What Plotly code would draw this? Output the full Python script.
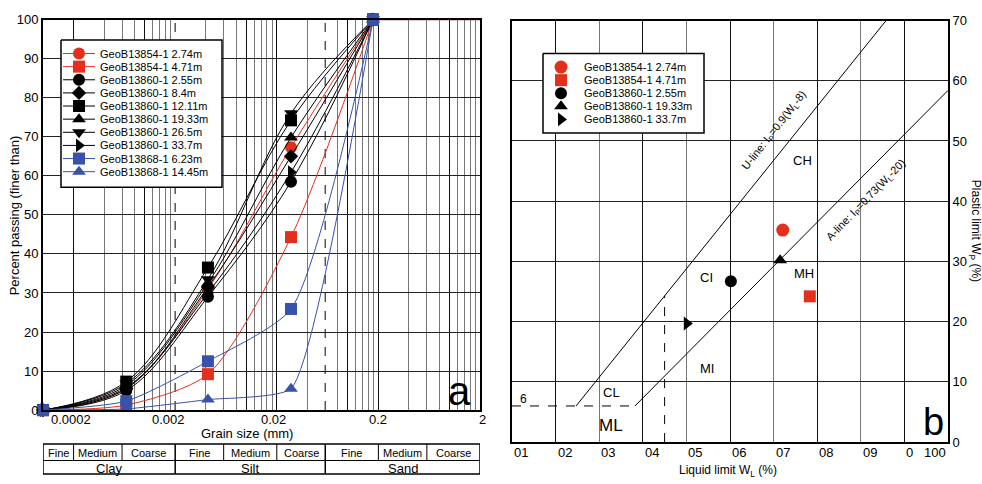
import math
import plotly.graph_objects as go

W, H = 982, 484
FONT = "Liberation Sans, Arial, sans-serif"
RED = "#E3301C"
BLUE = "#3752A8"
BLACK = "#000000"

# ---------------- panel a: grain size distribution ----------------
GRAIN_SIZE_MM = [0.0001, 0.00066, 0.0042, 0.0276, 0.177]
SIZE_AXIS_MIN = 0.0001
SIZE_AXIS_MAX = 2.0

P_13854_274 = [0, 5.5, 31.0, 67.3, 100]
P_13854_471 = [0, 1.3, 9.2, 44.3, 100]
P_13860_255 = [0, 5.0, 29.0, 58.5, 100]
P_13860_84 = [0, 5.5, 31.5, 65.0, 100]
P_13860_1211 = [0, 7.3, 36.5, 74.2, 100]
P_13860_1933 = [0, 6.3, 32.5, 69.8, 100]
P_13860_265 = [0, 6.8, 33.5, 76.0, 100]
P_13860_337 = [0, 5.8, 30.0, 60.9, 100]
P_13868_623 = [0, 2.3, 12.5, 25.9, 100]
P_13868_1445 = [0, 0.3, 2.7, 5.5, 100]

NAMES_A = ["GeoB13854-1 2.74m", "GeoB13854-1 4.71m", "GeoB13860-1 2.55m",
           "GeoB13860-1 8.4m", "GeoB13860-1 12.11m", "GeoB13860-1 19.33m",
           "GeoB13860-1 26.5m", "GeoB13860-1 33.7m", "GeoB13868-1 6.23m",
           "GeoB13868-1 14.45m"]
VALUES_A = [P_13854_274, P_13854_471, P_13860_255, P_13860_84, P_13860_1211,
            P_13860_1933, P_13860_265, P_13860_337, P_13868_623, P_13868_1445]

X_TICK_VALUES_A = [0.0002, 0.002, 0.02, 0.2, 2]
X_TICK_LABELS_A = ["0.0002", "0.002", "0.02", "0.2", "2"]
Y_TICKS_A = [0, 10, 20, 30, 40, 50, 60, 70, 80, 90, 100]

CLASS_NAMES = ["Clay", "Silt", "Sand"]
CLASS_BOUNDS = [0.0001, 0.002, 0.06, 2]
SUBCLASS_NAMES = ["Fine", "Medium", "Coarse"]
SUBCLASS_BOUNDS = [[0.0001, 0.0002, 0.0006, 0.002],
                   [0.002, 0.006, 0.02, 0.06],
                   [0.06, 0.2, 0.6, 2]]

# ---------------- panel b: plasticity chart ----------------
NAMES_B = ["GeoB13854-1 2.74m", "GeoB13854-1 4.71m", "GeoB13860-1 2.55m",
           "GeoB13860-1 19.33m", "GeoB13860-1 33.7m"]
LIQUID_LIMIT = [62.1, 68.3, 50.2, 61.5, 40.1]
PLASTIC_INDEX = [35.2, 24.2, 26.7, 30.2, 19.7]

U_LINE_WL = [14.7, 85.8]
U_LINE_IP = [6, 70]
A_LINE_WL = [28.2, 100]
A_LINE_IP = [6, 58.4]
IP6_WL = [0, 28.2]
IP6_IP = [6, 6]
WL35_WL = [35, 35]
WL35_IP = [0, 24.3]

ZONE_LABELS = ["CH", "CI", "MH", "MI", "CL", "ML"]
ZONE_WL = [66.7, 44.5, 67.0, 44.7, 22.9, 22.7]
ZONE_IP = [46.8, 27.4, 28.0, 12.2, 8.2, 2.7]

X_TICK_VALUES_B = [0, 10, 20, 30, 40, 50, 60, 70, 80, 90, 100]
X_TICK_TEXT_B = ["01", "02", "03", "04", "05", "06", "07", "08", "09", "0", "100"]
Y_TICKS_B = [0, 10, 20, 30, 40, 50, 60, 70]

# ---------------- styles ----------------
STYLE_A = [
    dict(color=RED, symbol="circle", size=12, smooth=1.0),
    dict(color=RED, symbol="square", size=12, smooth=0.75),
    dict(color=BLACK, symbol="circle", size=12, smooth=1.0),
    dict(color=BLACK, symbol="diamond", size=11, smooth=1.0),
    dict(color=BLACK, symbol="square", size=12, smooth=1.0),
    dict(color=BLACK, symbol="triangle-up", size=12, smooth=1.0),
    dict(color=BLACK, symbol="triangle-down", size=12, smooth=1.0),
    dict(color=BLACK, symbol="triangle-right", size=12, smooth=1.0),
    dict(color=BLUE, symbol="square", size=12, smooth=0.6),
    dict(color=BLUE, symbol="triangle-up", size=12, smooth=0.45),
]
DRAW_ORDER_A = [0, 1, 2, 3, 4, 5, 6, 7, 9, 8]
STYLE_B = [
    dict(color=RED, symbol="circle", size=13),
    dict(color=RED, symbol="square", size=12),
    dict(color=BLACK, symbol="circle", size=12),
    dict(color=BLACK, symbol="triangle-up", size=12),
    dict(color=BLACK, symbol="triangle-right", size=12),
]


def px(x):
    return x / W


def py(y):
    return 1 - y / H


fig = go.Figure()

# ---- panel a curves ----
for i in DRAW_ORDER_A:
    st = STYLE_A[i]
    fig.add_trace(go.Scatter(
        x=GRAIN_SIZE_MM, y=VALUES_A[i], mode="lines+markers",
        line=dict(color=st["color"], width=1, shape="spline", smoothing=st["smooth"]),
        marker=dict(symbol=st["symbol"], size=st["size"], color=st["color"]),
        cliponaxis=False, showlegend=False, xaxis="x", yaxis="y", name=NAMES_A[i]))

# plateau at 100 % up to the coarsest size of the axis
fig.add_trace(go.Scatter(
    x=[GRAIN_SIZE_MM[-1], SIZE_AXIS_MAX], y=[VALUES_A[0][-1], VALUES_A[0][-1]],
    mode="lines", line=dict(color="#7B2346", width=1.5), cliponaxis=False,
    showlegend=False, xaxis="x", yaxis="y"))
fig.add_trace(go.Scatter(
    x=[GRAIN_SIZE_MM[-1]], y=[P_13868_623[-1]], mode="markers",
    marker=dict(symbol="square", size=12, color=BLUE), cliponaxis=False,
    showlegend=False, xaxis="x", yaxis="y"))

# ---- panel b points and lines ----
for xs, ys, dash in [(U_LINE_WL, U_LINE_IP, "solid"), (A_LINE_WL, A_LINE_IP, "solid"),
                     (IP6_WL, IP6_IP, "dash"), (WL35_WL, WL35_IP, "dash")]:
    fig.add_trace(go.Scatter(x=xs, y=ys, mode="lines",
                             line=dict(color=BLACK, width=1, dash=dash),
                             showlegend=False, xaxis="x2", yaxis="y2"))
for i in range(len(NAMES_B)):
    st = STYLE_B[i]
    fig.add_trace(go.Scatter(
        x=[LIQUID_LIMIT[i]], y=[PLASTIC_INDEX[i]], mode="markers",
        marker=dict(symbol=st["symbol"], size=st["size"], color=st["color"]),
        showlegend=False, xaxis="x2", yaxis="y2", name=NAMES_B[i]))

annotations = []


def note(x, y, text, size, xref="paper", yref="paper", **kw):
    d = dict(x=x, y=y, xref=xref, yref=yref, text=text, showarrow=False,
             xanchor="center", yanchor="middle",
             font=dict(family=FONT, size=size, color=BLACK))
    d.update(kw)
    annotations.append(d)


# ---- custom legends (pixel overlay axis x3/y3) ----
def add_legend(box, marker_x, text_x, row0, step, names, styles, line_span=None):
    x0, y0, x1, y1 = box
    fig.add_trace(go.Scatter(
        x=[x0, x1, x1, x0, x0], y=[y0, y0, y1, y1, y0], mode="lines",
        fill="toself", fillcolor="white", line=dict(color=BLACK, width=1.5),
        showlegend=False, xaxis="x3", yaxis="y3", hoverinfo="skip"))
    for k, (nm, st) in enumerate(zip(names, styles)):
        yy = row0 + k * step
        if line_span is not None:
            fig.add_trace(go.Scatter(
                x=[line_span[0], line_span[1]], y=[yy, yy], mode="lines",
                line=dict(color=st["color"], width=1), showlegend=False,
                xaxis="x3", yaxis="y3", hoverinfo="skip"))
        fig.add_trace(go.Scatter(
            x=[marker_x], y=[yy], mode="markers",
            marker=dict(symbol=st["symbol"], size=st["size"], color=st["color"]),
            showlegend=False, xaxis="x3", yaxis="y3", hoverinfo="skip"))
        note(px(text_x), py(yy), nm, 11, xanchor="left")


add_legend((61, 34, 222, 186), 79, 98, 48, 13.55, NAMES_A, STYLE_A, line_span=(63, 95))
add_legend((543, 48, 704, 130), 561, 582, 62, 13.5, NAMES_B, STYLE_B)

# ---- panel a gridlines (log grid) ----
grid_black, grid_gray = [], []
for a in X_TICK_VALUES_A[:-1]:
    for k in range(1, 10):
        v = round(a * k, 7)
        if any(abs(v - b) < 1e-9 for b in CLASS_BOUNDS[1:-1]):
            continue
        (grid_black if k in (1, 5) else grid_gray).append(v)
grid_black.append(SIZE_AXIS_MAX)

shapes = []
for b in CLASS_BOUNDS[1:-1]:
    shapes.append(dict(type="line", xref="x", yref="y", x0=b, x1=b, y0=0, y1=100,
                       line=dict(color="#555", width=1.5, dash="dash"), layer="below"))

# ---- size class table ----
T_TOP, T_MID, T_BOT = 451, 468, 482
shapes.append(dict(type="rect", xref="x", yref="paper", x0=CLASS_BOUNDS[0], x1=CLASS_BOUNDS[-1],
                   y0=py(T_BOT), y1=py(T_TOP), line=dict(color=BLACK, width=1.5)))
shapes.append(dict(type="line", xref="x", yref="paper", x0=CLASS_BOUNDS[0], x1=CLASS_BOUNDS[-1],
                   y0=py(T_MID), y1=py(T_MID), line=dict(color=BLACK, width=1)))
for b in CLASS_BOUNDS[1:-1]:
    shapes.append(dict(type="line", xref="x", yref="paper", x0=b, x1=b,
                       y0=py(T_BOT), y1=py(T_TOP), line=dict(color=BLACK, width=1.5)))
for ci, bounds in enumerate(SUBCLASS_BOUNDS):
    for b in bounds[1:-1]:
        shapes.append(dict(type="line", xref="x", yref="paper", x0=b, x1=b,
                           y0=py(T_MID), y1=py(T_TOP), line=dict(color=BLACK, width=1)))
    for si, nm in enumerate(SUBCLASS_NAMES):
        mid = (math.log10(bounds[si]) + math.log10(bounds[si + 1])) / 2
        note(mid, py((T_TOP + T_MID) / 2 + 0.5), nm, 11, xref="x")
    midc = (math.log10(CLASS_BOUNDS[ci]) + math.log10(CLASS_BOUNDS[ci + 1])) / 2
    note(midc, py((T_MID + T_BOT) / 2 + 1), CLASS_NAMES[ci], 13, xref="x")

# ---- panel a tick labels / titles ----
X_LABEL_SHIFT_A = [-3, -7, -3, 0, 2]
for v, t, s in zip(X_TICK_VALUES_A, X_TICK_LABELS_A, X_LABEL_SHIFT_A):
    note(math.log10(v), py(425.5), t, 13, xref="x", xshift=s)
note(px(247), py(440.5), "Grain size (mm)", 13)
note(px(14), py(215), "Percent passing (finer than)", 13, textangle=-90)
note(px(459), py(396), "a", 40)

# ---- panel b labels ----
for v, t in zip(X_TICK_VALUES_B, X_TICK_TEXT_B):
    note(v, py(460), t, 13, xref="x2",
         xanchor="right" if t == X_TICK_TEXT_B[-1] else "left")
note(px(728), py(479), "Liquid limit W<sub>L</sub> (%)", 12)
note(px(975), py(231), "Plastic limit W<sub>P</sub> (%)", 12, textangle=90)
for t, xv, yv in zip(ZONE_LABELS, ZONE_WL, ZONE_IP):
    note(xv, yv, t, 17 if t == "ML" else 13, xref="x2", yref="y2")
note(2.75, 7.1, "6", 12, xref="x2", yref="y2")
note(60.3, 51.8, "U-line: I<sub>P</sub>=0.9(W<sub>L</sub>-8)", 11, xref="x2", yref="y2",
     textangle=-52)
note(81.3, 40.2, "A-line: I<sub>P</sub>=0.73(W<sub>L</sub>-20)", 11, xref="x2", yref="y2",
     textangle=-46)
note(px(933), py(428), "b", 38)

AX_COMMON = dict(showline=True, mirror=True, linecolor=BLACK, linewidth=2, zeroline=False,
                 ticks="", tickfont=dict(family=FONT, size=13, color=BLACK), fixedrange=True)

fig.update_layout(
    width=W, height=H, margin=dict(l=0, r=0, t=0, b=0),
    paper_bgcolor="white", plot_bgcolor="rgba(0,0,0,0)",
    font=dict(family=FONT, color=BLACK), showlegend=False,
    xaxis=dict(AX_COMMON, domain=[px(43), px(480)], type="log",
               range=[math.log10(SIZE_AXIS_MIN), math.log10(SIZE_AXIS_MAX)],
               tickmode="array", tickvals=grid_black, showticklabels=False,
               showgrid=True, gridcolor="#111", gridwidth=1,
               minor=dict(tickmode="array", tickvals=grid_gray, showgrid=True,
                          gridcolor="#777", gridwidth=1, ticks=""),
               anchor="y"),
    yaxis=dict(AX_COMMON, domain=[py(416), py(13)], range=[0, 100], tickmode="array",
               tickvals=Y_TICKS_A, showgrid=True, gridcolor="#222", gridwidth=1, anchor="x"),
    xaxis2=dict(AX_COMMON, domain=[px(512), px(948)], range=[0, 100], tickmode="array",
                tickvals=X_TICK_VALUES_B[1:-1:2], showticklabels=False, showgrid=True,
                gridcolor="#111", gridwidth=1,
                minor=dict(tickmode="array", tickvals=X_TICK_VALUES_B[2:-1:2], showgrid=True,
                           gridcolor="#777", gridwidth=1, ticks=""),
                anchor="y2"),
    yaxis2=dict(AX_COMMON, domain=[py(449), py(14)], range=[0, 70], tickmode="array",
                tickvals=Y_TICKS_B, showgrid=True, gridcolor="#222", gridwidth=1,
                side="right", anchor="x2"),
    xaxis3=dict(domain=[0, 1], range=[0, W], visible=False, fixedrange=True, anchor="y3"),
    yaxis3=dict(domain=[0, 1], range=[H, 0], visible=False, fixedrange=True, anchor="x3"),
    shapes=shapes, annotations=annotations,
)

fig.write_html("out.html")
